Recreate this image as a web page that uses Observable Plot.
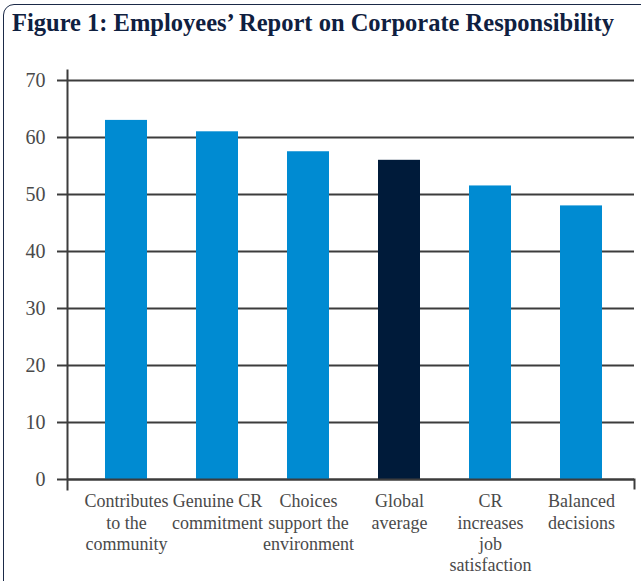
<!DOCTYPE html>
<html>
<head>
<meta charset="utf-8">
<script src="https://cdn.jsdelivr.net/npm/d3@7"></script>
<script src="https://cdn.jsdelivr.net/npm/@observablehq/plot@0.6"></script>
<style>
  html, body { margin: 0; padding: 0; background: #fff; }
  body { width: 641px; height: 581px; overflow: hidden; position: relative; }
  .panel {
    position: absolute; left: 3px; top: 4px; width: 650px; height: 620px;
    border: 1.5px solid #1b2a48; border-radius: 11px; box-sizing: border-box;
  }
  .title {
    position: absolute; left: 12px; top: 9px; margin: 0;
    font-family: "Liberation Serif", "DejaVu Serif", serif; font-weight: bold;
    font-size: 24.5px; line-height: 28px; color: #0f2040; white-space: nowrap;
  }
  #chart { position: absolute; left: 0; top: 60px; }
  #chart svg text { font-family: "Liberation Serif", "DejaVu Serif", serif; }
</style>
</head>
<body>
<div class="panel"></div>
<div class="title">Figure 1: Employees’ Report on Corporate Responsibility</div>
<div id="chart"></div>
<script>
// Share of employees agreeing with each statement (%)
const categories = [
  "Contributes to the community",
  "Genuine CR commitment",
  "Choices support the environment",
  "Global average",
  "CR increases job satisfaction",
  "Balanced decisions"
];
const values = [63, 61, 57.5, 56, 51.5, 48];
const axisLabels = [
  "Contributes\nto the\ncommunity",
  "Genuine CR\ncommitment",
  "Choices\nsupport the\nenvironment",
  "Global\naverage",
  "CR\nincreases\njob\nsatisfaction",
  "Balanced\ndecisions"
];
const yTicks = [0, 10, 20, 30, 40, 50, 60, 70];

const highlight = "Global average";
const blue = "#008bd2";
const navy = "#001b3a";
const ink = "#3c3c3c";

const data = categories.map((c, i) => ({category: c, value: values[i]}));
const labelOf = new Map(categories.map((c, i) => [c, axisLabels[i]]));

const width = 641, height = 521;
const marginTop = 20, marginBottom = 102, marginLeft = 67, marginRight = 7;
const plotHeight = height - marginTop - marginBottom;

const chart = Plot.plot({
  width, height, marginTop, marginBottom, marginLeft, marginRight,
  style: {fontFamily: "'Liberation Serif', 'DejaVu Serif', serif", color: ink, background: "transparent"},
  x: {domain: categories, paddingInner: 0.54, paddingOuter: 0.378, align: 0.54, label: null},
  y: {domain: [0, 70], label: null},
  marks: [
    Plot.gridY(yTicks, {stroke: ink, strokeOpacity: 1, strokeWidth: 2}),
    Plot.axisY(yTicks, {tickSize: 10, tickPadding: 12, fontSize: 20, stroke: ink, strokeWidth: 2, fill: "#4a4a4a", label: null}),
    Plot.barY(data, {x: "category", y: "value", fill: d => d.category === highlight ? navy : blue}),
    Plot.ruleY([0], {stroke: ink, strokeWidth: 2}),
    // vertical value axis line, running a little past both ends
    Plot.frame({anchor: "left", stroke: ink, strokeWidth: 2, insetTop: -10, insetBottom: -10}),
    // closing tick at the right end of the category axis
    Plot.frame({anchor: "right", stroke: ink, strokeWidth: 2, insetTop: plotHeight, insetBottom: -9}),
    Plot.axisX({tickSize: 0, tickPadding: 13, fontSize: 18, lineHeight: 1.17, fill: "#4a4a4a",
      tickFormat: d => labelOf.get(d), label: null})
  ]
});
document.getElementById("chart").appendChild(chart);
</script>
</body>
</html>
